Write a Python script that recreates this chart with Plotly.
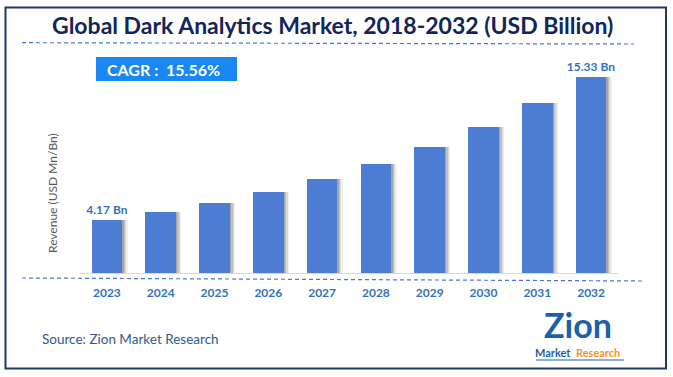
import plotly.graph_objects as go

years = ["2023", "2024", "2025", "2026", "2027", "2028", "2029", "2030", "2031", "2032"]
revenue = [4.17, 4.77, 5.47, 6.33, 7.38, 8.55, 9.88, 11.45, 13.27, 15.33]
bar_labels = ["4.17 Bn", "", "", "", "", "", "", "", "", "15.33 Bn"]
title_text = "Global Dark Analytics Market, 2018-2032 (USD Billion)"
cagr_text = "CAGR :  15.56%"
y_title = "Revenue (USD Mn/Bn)"
source_text = "Source: Zion Market Research"

FW, FH = 673, 377
L, R, T, B = 80, 55, 60, 104
PW, PH = FW - L - R, FH - T - B
YMAX = 16.65


def px(x):
    return (x - L) / PW


def py(y):
    return (FH - B - y) / PH


BAR_W = 0.57
BAR_COLOR = "#4d7dd2"
LABEL_BLUE = "#3273ba"
NAVY = "#13245a"

fig = go.Figure()

# soft shadows
for off, alpha in [(0.10, 0.08), (0.075, 0.12), (0.05, 0.16), (0.025, 0.2)]:
    fig.add_trace(go.Bar(
        x=years, y=revenue, width=BAR_W, offset=-BAR_W / 2 + off,
        marker=dict(color=f"rgba(60,60,60,{alpha})", line=dict(width=0)),
        hoverinfo="skip", showlegend=False,
    ))

fig.add_trace(go.Bar(
    x=years, y=revenue, width=BAR_W, offset=-BAR_W / 2,
    marker=dict(color=BAR_COLOR, line=dict(width=0)),
    text=bar_labels, textposition="outside", cliponaxis=False, constraintext="none",
    textfont=dict(family="Lato", size=12, color=LABEL_BLUE, weight="bold"),
    showlegend=False,
))

shapes = [
    # outer border
    dict(type="rect", xref="paper", yref="paper", x0=px(5.5), x1=px(666), y0=py(7.5), y1=py(368.5),
         line=dict(color="#1f3a60", width=2), fillcolor="rgba(0,0,0,0)", layer="below"),
    # dashed under title
    dict(type="line", xref="paper", yref="paper", x0=px(22), x1=px(634), y0=py(42.7), y1=py(44),
         line=dict(color="#4a78c8", width=1.2, dash="4px,3px")),
    # dashed under axis
    dict(type="line", xref="paper", yref="paper", x0=px(22), x1=px(643), y0=py(278), y1=py(281),
         line=dict(color="#4a78c8", width=1.2, dash="4px,3px")),
    # CAGR box
    dict(type="rect", xref="paper", yref="paper", x0=px(96), x1=px(237), y0=py(57), y1=py(81),
         line=dict(width=0), fillcolor="#1a87f2"),
    # logo underline
    dict(type="line", xref="paper", yref="paper", x0=px(536), x1=px(624), y0=py(360), y1=py(360),
         line=dict(color="#1b5fad", width=1)),
]

annotations = [
    dict(text=f"<b>{title_text}</b>", xref="paper", yref="paper", x=px(332), y=py(25),
         xanchor="center", yanchor="middle", showarrow=False,
         font=dict(family="Lato", size=23, color=NAVY)),
    dict(text=f"<b>{cagr_text}</b>", xref="paper", yref="paper", x=px(163), y=py(69),
         xanchor="center", yanchor="middle", showarrow=False,
         font=dict(family="Lato", size=16, color="white")),
    dict(text=y_title, xref="paper", yref="paper", x=px(52), y=py(193), textangle=-90,
         xanchor="center", yanchor="middle", showarrow=False,
         font=dict(family="Lato", size=12, color="#595959")),
    dict(text=source_text, xref="paper", yref="paper", x=px(40), y=py(339),
         xanchor="left", yanchor="middle", showarrow=False,
         font=dict(family="Lato", size=13.5, color="#2f5a8a")),
    dict(text="<b>Zion</b>", xref="paper", yref="paper", x=px(578), y=py(324),
         xanchor="center", yanchor="middle", showarrow=False,
         font=dict(family="Lato", size=34, color="#1b5fad")),
    dict(text="<b>Market</b>", xref="paper", yref="paper", x=px(572), y=py(352),
         xanchor="right", yanchor="middle", showarrow=False, borderpad=0,
         font=dict(family="Lato", size=11, color="#1b5fad")),
    dict(text="<b>Research</b>", xref="paper", yref="paper", x=px(575), y=py(352),
         xanchor="left", yanchor="middle", showarrow=False, borderpad=0,
         font=dict(family="Lato", size=11, color="#f7941d")),
]

fig.update_layout(
    width=FW, height=FH,
    margin=dict(l=L, r=R, t=T, b=B),
    paper_bgcolor="white", plot_bgcolor="white",
    barmode="overlay", bargap=0,
    shapes=shapes, annotations=annotations,
    xaxis=dict(
        type="category", range=[-0.5, 9.5], showgrid=False, zeroline=False,
        showline=True, linecolor="#d9d9d9", linewidth=1,
        ticks="", ticklabelstandoff=9,
        tickfont=dict(family="Lato", size=12, color=LABEL_BLUE, weight="bold"),
    ),
    yaxis=dict(range=[0, YMAX], showgrid=False, zeroline=False, showline=False,
               showticklabels=False, ticks=""),
)

fig.write_html("out.html", config={"displayModeBar": False},
               post_script="document.body.style.margin='0';")
